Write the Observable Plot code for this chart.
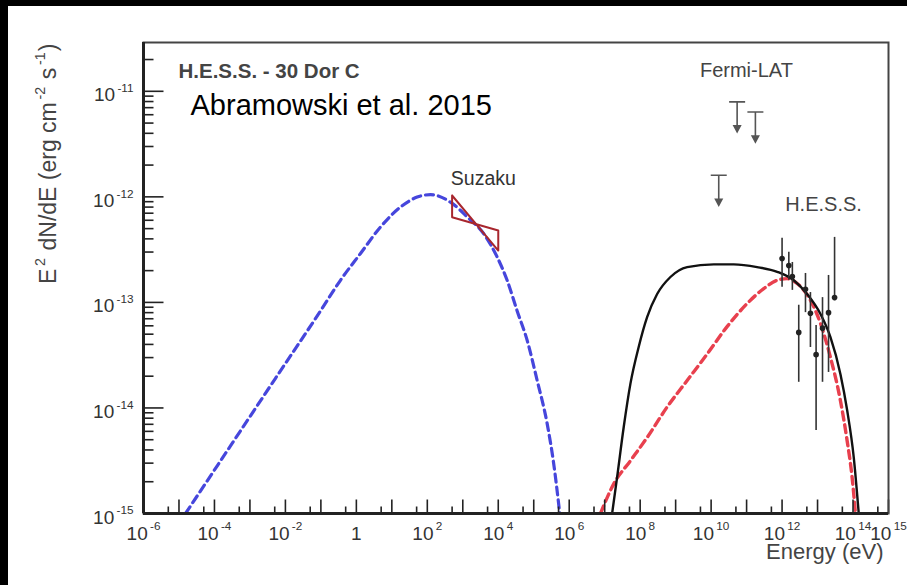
<!DOCTYPE html>
<html>
<head>
<meta charset="utf-8">
<script src="https://cdn.jsdelivr.net/npm/d3@7"></script>
<script src="https://cdn.jsdelivr.net/npm/@observablehq/plot@0.6"></script>
<style>
  html, body { margin: 0; padding: 0; background: #000; width: 907px; height: 585px; overflow: hidden; }
  #panel { position: absolute; left: 8px; top: 6px; width: 899px; height: 579px; background: #fff; }
  #panel svg { position: absolute; left: 0; top: 0; }
</style>
</head>
<body>
<div id="panel"></div>
<script>
// ---- SED of 30 Dor C: energies in eV, E^2 dN/dE in erg cm^-2 s^-1 ----

// Synchrotron model (blue dashed)
const syncE = [1.53e-5, 2.83e-4, 5.25e-3, 0.0975, 0.356, 1.31, 4.79, 17.5, 51.8, 123, 450, 1330, 3900, 9310, 1.78e4, 3.41e4, 6.53e4, 1.25e5, 2.39e5, 3.66e5, 5.41e5];
const syncF = [1e-15, 4.37e-15, 1.91e-14, 8.3e-14, 1.62e-13, 2.91e-13, 5.18e-13, 8.0e-13, 9.95e-13, 1.05e-12, 8.9e-13, 6.46e-13, 4.47e-13, 2.69e-13, 1.62e-13, 8.3e-14, 4.37e-14, 1.82e-14, 7.1e-15, 2.95e-15, 1e-15];

// Inverse-Compton model (black solid)
const icE = [1.62e7, 2.24e7, 3.44e7, 5.32e7, 9.12e7, 1.57e8, 3.01e8, 7.13e8, 2.11e9, 1.19e10, 4.35e10, 1.98e11, 7.26e11, 2.13e12, 5.08e12, 1.21e13, 2.31e13, 4.42e13, 6.82e13, 1.05e14, 1.45e14];
const icF = [1e-15, 2.21e-15, 6.6e-15, 1.70e-14, 3.80e-14, 7.24e-14, 1.20e-13, 1.74e-13, 2.16e-13, 2.29e-13, 2.29e-13, 2.16e-13, 1.95e-13, 1.62e-13, 1.20e-13, 7.76e-14, 4.68e-14, 2.09e-14, 9.55e-15, 3.39e-15, 1e-15];

// Hadronic model (red dashed)
const hadE = [7.6e6, 1.80e7, 5.32e7, 1.57e8, 5.75e8, 2.11e9, 7.73e9, 2.82e10, 1.04e11, 3.04e11, 7.26e11, 1.39e12, 2.66e12, 6.30e12, 1.21e13, 2.31e13, 4.42e13, 6.82e13, 9.44e13, 1.17e14];
const hadF = [1e-15, 1.91e-15, 3.16e-15, 5.25e-15, 1.02e-14, 1.82e-14, 3.24e-14, 5.89e-14, 9.77e-14, 1.35e-13, 1.62e-13, 1.68e-13, 1.51e-13, 1.05e-13, 6.31e-14, 3.02e-14, 1.17e-14, 4.90e-15, 2.19e-15, 1e-15];

// Suzaku butterfly (0.5 - 10 keV)
const suzakuE = [500, 1e4];
const suzakuLow = [6.4e-13, 3.1e-13];
const suzakuHigh = [1.03e-12, 4.8e-13];

// Fermi-LAT upper limits
const fermiE = [1.64e10, 5.41e10, 1.77e11];
const fermiUL = [1.60e-12, 7.94e-12, 6.37e-12];

// H.E.S.S. flux points with error bars
const hessE = [1.0e12, 1.55e12, 1.95e12, 2.95e12, 4.57e12, 6.3e12, 9.1e12, 1.38e13, 2.04e13, 3.02e13];
const hessF = [2.61e-13, 2.24e-13, 1.76e-13, 5.2e-14, 1.33e-13, 7.9e-14, 3.2e-14, 5.7e-14, 8.0e-14, 1.11e-13];
const hessLo = [1.39e-13, 1.62e-13, 1.30e-13, 1.75e-14, 8.0e-14, 3.74e-14, 6.1e-15, 1.75e-14, 2.17e-14, 1.04e-13];
const hessHi = [4.05e-13, 2.98e-13, 2.39e-13, 9.4e-14, 1.88e-13, 1.24e-13, 6.05e-14, 1.11e-13, 1.80e-13, 4.13e-13];

// Axis ticks and labels
const xDecades = [1e-6, 1e-5, 1e-4, 1e-3, 1e-2, 1e-1, 1, 1e1, 1e2, 1e3, 1e4, 1e5, 1e6, 1e7, 1e8, 1e9, 1e10, 1e11, 1e12, 1e13, 1e14, 1e15];
const xLabelValues = [1e-6, 1e-4, 1e-2, 1, 1e2, 1e4, 1e6, 1e8, 1e10, 1e12, 1e14, 1e15];
const xLabelText = ["10^-6", "10^-4", "10^-2", "1", "10^2", "10^4", "10^6", "10^8", "10^10", "10^12", "10^14", "10^15"];
const yDecades = [1e-15, 1e-14, 1e-13, 1e-12, 1e-11];
const yLabelText = ["10^-15", "10^-14", "10^-13", "10^-12", "10^-11"];

const rows = (xs, ys) => xs.map((e, i) => ({e, f: ys[i]}));
const synchrotron = rows(syncE, syncF);
const inverseCompton = rows(icE, icF);
const hadronic = rows(hadE, hadF);
const fermi = rows(fermiE, fermiUL);
const hess = hessE.map((e, i) => ({e, f: hessF[i], lo: hessLo[i], hi: hessHi[i]}));
const butterfly = [
  {e: suzakuE[0], f: suzakuHigh[0]},
  {e: suzakuE[1], f: suzakuLow[1]},
  {e: suzakuE[1], f: suzakuHigh[1]},
  {e: suzakuE[0], f: suzakuLow[0]},
  {e: suzakuE[0], f: suzakuHigh[0]}
];
const xMinor = xDecades.slice(0, -1).map(d => 5 * d);
const yMinor = [];
for (const d of yDecades) for (let k = 2; k <= 9; k++) if (k * d < 2.9e-11) yMinor.push(k * d);

// Tick glyphs drawn inward from the axis line
const tickUp = len => ({draw(ctx) { ctx.moveTo(0, 0); ctx.lineTo(0, -len); }});
const tickRight = len => ({draw(ctx) { ctx.moveTo(0, 0); ctx.lineTo(len, 0); }});

// Upper-limit glyph: cap, stem and arrow head
const upperLimit = {
  draw(ctx) {
    ctx.moveTo(-8, 0); ctx.lineTo(8, 0);
    ctx.moveTo(0, 0); ctx.lineTo(0, 25);
    ctx.moveTo(-3.2, 24); ctx.lineTo(3.2, 24); ctx.lineTo(0, 30); ctx.closePath();
  }
};

const FONT = "'Liberation Sans', Arial, Helvetica, sans-serif";
const TXT = "#333";
// shared geometry and scales for every layer
const layout = {
  width: 899, height: 579,
  marginLeft: 135, marginRight: 19, marginTop: 36, marginBottom: 72,
  x: {type: "log", domain: [1e-6, 1e15], axis: null},
  y: {type: "log", domain: [1e-15, 2.9e-11], axis: null}
};

// main layer: models, measurements, frame, major ticks and labels
const chart = Plot.plot({
  ...layout,
  style: {fontFamily: FONT, overflow: "visible"},
  marks: [
    Plot.line(synchrotron, {x: "e", y: "f", stroke: "#4646dc", strokeWidth: 3.2, strokeDasharray: "8,5", curve: "monotone-x", clip: true}),
    Plot.line(hadronic, {x: "e", y: "f", stroke: "#e8404e", strokeWidth: 3.4, strokeDasharray: "8,5", curve: "monotone-x", clip: true}),
    Plot.line(inverseCompton, {x: "e", y: "f", stroke: "#111", strokeWidth: 2.4, curve: "monotone-x", clip: true}),

    Plot.line(butterfly, {x: "e", y: "f", stroke: "#a8262e", strokeWidth: 2, curve: "linear"}),

    Plot.dot(fermi, {x: "e", y: "f", symbol: upperLimit, fill: "#555", stroke: "#555", strokeWidth: 1.6}),

    Plot.ruleX(hess, {x: "e", y1: "lo", y2: "hi", stroke: "#333", strokeWidth: 1.6}),
    Plot.dot(hess, {x: "e", y: "f", r: 2.8, fill: "#222"}),

    Plot.dot(xDecades, {x: d => d, y: 1e-15, symbol: tickUp(14), fill: "none", stroke: "#222", strokeWidth: 1.6}),
    Plot.dot(yDecades, {x: 1e-6, y: d => d, symbol: tickRight(20), fill: "none", stroke: "#222", strokeWidth: 1.6}),
    Plot.frame({stroke: "#444", strokeWidth: 2}),

    // tick labels
    Plot.text(xLabelValues, {x: d => d, text: (d, i) => xLabelText[i], frameAnchor: "bottom", dy: 26, fontSize: 19, fill: TXT}),
    Plot.text(yDecades, {y: d => d, text: (d, i) => yLabelText[i], frameAnchor: "left", dx: -10, dy: 4, textAnchor: "end", fontSize: 19, fill: TXT}),

    // axis titles
    Plot.text(["Energy (eV)"], {text: d => d, frameAnchor: "bottom-right", dx: -5, dy: 45, textAnchor: "end", fontSize: 22, fill: "#444"}),
    Plot.text(["E^2 dN/dE (erg cm^-2 s^-1)"], {text: d => d, frameAnchor: "top-left", dx: -104, dy: 1, rotate: -90, textAnchor: "end", fontSize: 23, fill: "#444"}),

    // annotations
    Plot.text(["H.E.S.S. - 30 Dor C"], {text: d => d, frameAnchor: "top-left", dx: 35, dy: 21, textAnchor: "start", fontSize: 20.5, fontWeight: "bold", fill: "#444"}),
    Plot.text(["Abramowski et al. 2015"], {text: d => d, frameAnchor: "top-left", dx: 47, dy: 52, textAnchor: "start", fontSize: 29, fill: "#000"}),
    Plot.text(["Suzaku"], {text: d => d, x: 3.8e3, y: 1.5e-12, fontSize: 19.5, fill: TXT}),
    Plot.text(["Fermi-LAT"], {text: d => d, x: 9.9e10, y: 1.58e-11, fontSize: 20, fill: "#444"}),
    Plot.text(["H.E.S.S."], {text: d => d, x: 1.47e13, y: 8.5e-13, fontSize: 20, fill: "#444"})
  ]
});

// minor ticks, in their own transparent layer
const minorTicks = Plot.plot({
  ...layout,
  style: {overflow: "visible", background: "transparent"},
  marks: [
    Plot.dot(xMinor, {x: d => d, y: 1e-15, symbol: tickUp(7), fill: "none", stroke: "#222", strokeWidth: 1.6}),
    Plot.dot(yMinor, {x: 1e-6, y: d => d, symbol: tickRight(10), fill: "none", stroke: "#222", strokeWidth: 1.6})
  ]
});

// heavier left and bottom axis lines, in their own transparent layer
const axisLines = Plot.plot({
  ...layout,
  style: {overflow: "visible", background: "transparent"},
  marks: [
    Plot.ruleX([1e-6], {stroke: "#222", strokeWidth: 3}),
    Plot.ruleY([1e-15], {stroke: "#222", strokeWidth: 3})
  ]
});

const panel = document.getElementById("panel");
panel.appendChild(chart);
panel.appendChild(minorTicks);
panel.appendChild(axisLines);

// Turn "^n" in label strings into raised, smaller tspans
function superscripts(el) {
  const s = el.textContent;
  if (!s.includes("^")) return;
  const fs = parseFloat(getComputedStyle(el).fontSize) || 16;
  const supSize = fs * 0.62, raise = fs * 0.48;
  const parts = s.split(/\^(-?\d+)/);
  el.textContent = "";
  let raised = false;
  parts.forEach((p, i) => {
    if (!p) return;
    const t = d3.select(el).append("tspan").text(p);
    if (i % 2 === 1) {
      t.attr("font-size", supSize).attr("dy", -raise).attr("dx", fs * 0.12);
      raised = true;
    } else if (raised) {
      t.attr("dy", raise).attr("dx", fs * 0.05);
      raised = false;
    }
  });
}
d3.select(chart).selectAll("text").each(function () { superscripts(this); });
</script>
</body>
</html>
